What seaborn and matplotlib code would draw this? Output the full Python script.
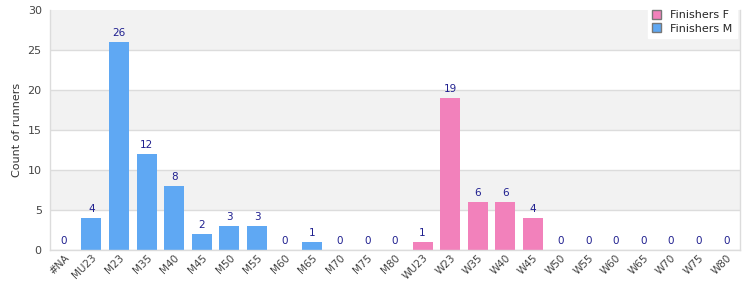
import pandas as pd
import matplotlib
matplotlib.use("Agg")
import matplotlib.pyplot as plt
import seaborn as sns
from matplotlib.patches import Patch

# Données
categories = ['#NA', 'MU23', 'M23', 'M35', 'M40', 'M45', 'M50', 'M55', 'M60', 'M65', 'M70', 'M75', 'M80',
              'WU23', 'W23', 'W35', 'W40', 'W45', 'W50', 'W55', 'W60', 'W65', 'W70', 'W75', 'W80']
counts = [0, 4, 26, 12, 8, 2, 3, 3, 0, 1, 0, 0, 0,
          1, 19, 6, 6, 4, 0, 0, 0, 0, 0, 0, 0]
groups = ['Finishers M'] * 13 + ['Finishers F'] * 12

colors = {'Finishers F': '#f281bb', 'Finishers M': '#5fa8f3'}

df = pd.DataFrame({'cat': categories, 'count': counts, 'group': groups})

sns.set_style("white")
plt.rcParams['font.family'] = ['DejaVu Sans']

fig = plt.figure(figsize=(7.5, 3), dpi=100)
ax = fig.add_axes([0.0667, 0.1667, 0.92, 0.80])

# Bandes de fond
for lo in range(0, 30, 5):
    if (lo // 5) % 2 == 1:
        ax.axhspan(lo, lo + 5, color='#f2f2f2', zorder=0, lw=0)
    ax.axhline(lo, color='#dcdcdc', lw=1, zorder=0.5)

sns.barplot(data=df, x='cat', y='count', hue='group', palette=colors, dodge=False,
            width=0.72, saturation=1, linewidth=0, ax=ax, legend=False, zorder=2)

for i, v in enumerate(counts):
    ax.text(i, v + 0.5, str(v), ha='center', va='bottom', fontsize=7.5, color='#1f1f8f')

ax.set_ylim(0, 30)
ax.set_xlim(-0.5, len(categories) - 0.5)
ax.set_yticks(range(0, 31, 5))
ax.set_xlabel('')
ax.set_ylabel('Count of runners', fontsize=8, color='#333333')
ax.tick_params(axis='y', labelsize=8, colors='#444444', length=0, pad=6)
ax.tick_params(axis='x', labelsize=7.5, colors='#444444', length=0, pad=2)
plt.setp(ax.get_xticklabels(), rotation=45, ha='right', rotation_mode='anchor')

for side in ['left', 'bottom', 'right', 'top']:
    ax.spines[side].set_color('#dcdcdc')
    ax.spines[side].set_linewidth(1)
ax.spines['top'].set_visible(False)

handles = [Patch(facecolor=colors['Finishers F'], edgecolor='#777777', label='Finishers F'),
           Patch(facecolor=colors['Finishers M'], edgecolor='#777777', label='Finishers M')]
leg = fig.legend(handles=handles, loc='upper right', bbox_to_anchor=(0.99, 1.0), fontsize=8,
                 frameon=True, handlelength=0.8, handleheight=0.8, borderpad=0.4, labelspacing=0.3,
                 fancybox=False, framealpha=1)
leg.get_frame().set_edgecolor('white')

fig.savefig('out.png', dpi=100)
